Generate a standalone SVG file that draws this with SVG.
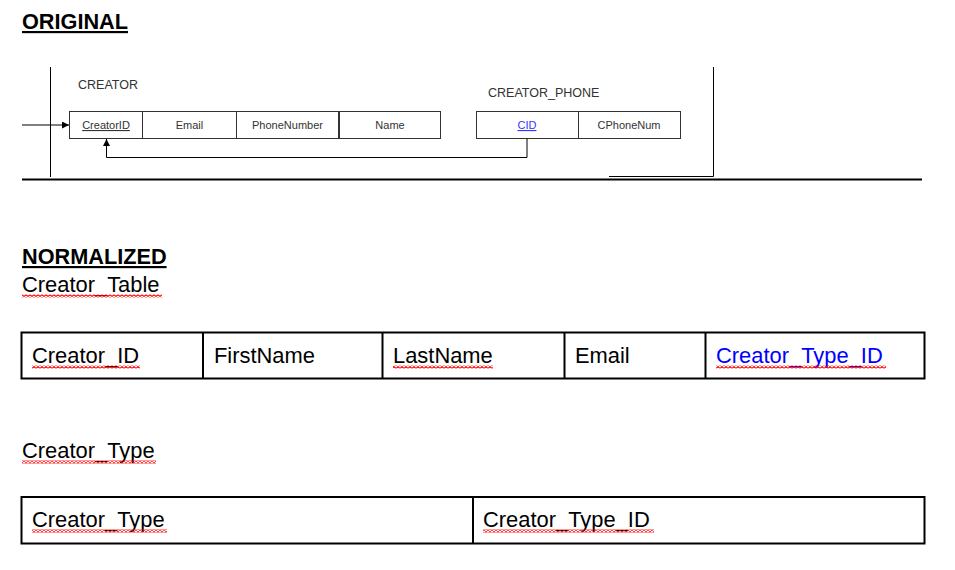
<svg xmlns="http://www.w3.org/2000/svg" width="955" height="570" viewBox="0 0 955 570">
<style>
.h{font-family:"Liberation Sans",Arial,sans-serif;font-size:21.7px;font-weight:bold;fill:#000;text-decoration:underline}
.t{font-family:"Liberation Sans",Arial,sans-serif;font-size:21.9px;fill:#000}
.blue{fill:#0000ff}
.s{font-family:"Liberation Sans",Arial,sans-serif;font-size:11px;fill:#333;text-anchor:middle}
.lbl{font-family:"Liberation Sans",Arial,sans-serif;font-size:12.5px;fill:#333}
.cell{fill:#fff;stroke:#333;stroke-width:1}
.tbl{fill:none;stroke:#000;stroke-width:2}
.ln{stroke:#000;stroke-width:1;fill:none}
.sq{fill:url(#wave)}
</style>
<defs>
<pattern id="wave" width="4" height="3" patternUnits="userSpaceOnUse">
<polyline points="0,2.5 2,0.5 4,2.5" fill="none" stroke="#ff0000" stroke-width="1.1"/>
</pattern>
<marker id="ah" viewBox="0 0 10 10" refX="10" refY="5" markerWidth="7" markerHeight="7" orient="auto" markerUnits="userSpaceOnUse">
<path d="M0,0 L10,5 L0,10 Z" fill="#000"/>
</marker>
</defs>
<rect width="955" height="570" fill="#fff"/>

<text class="h" x="22" y="29">ORIGINAL</text>

<g id="frame">
<line class="ln" x1="50.5" y1="67" x2="50.5" y2="177"/>
<polyline class="ln" stroke="#333" points="609,176.5 713.5,176.5 713.5,67"/>
<line x1="22" y1="179.5" x2="922" y2="179.5" stroke="#000" stroke-width="2"/>
</g>

<g id="creator">
<text class="lbl" x="78" y="89">CREATOR</text>
<rect class="cell" x="69.5" y="111.5" width="73" height="27"/>
<rect class="cell" x="142.5" y="111.5" width="94" height="27"/>
<rect class="cell" x="236.5" y="111.5" width="102" height="27"/>
<rect class="cell" x="339.5" y="111.5" width="101" height="27"/>
<text class="s" x="106" y="129" text-decoration="underline">CreatorID</text>
<text class="s" x="189.5" y="129">Email</text>
<text class="s" x="287.5" y="129">PhoneNumber</text>
<text class="s" x="390" y="129">Name</text>
</g>

<g id="creator_phone">
<text class="lbl" x="488" y="97">CREATOR_PHONE</text>
<rect class="cell" x="476.5" y="111.5" width="102" height="27"/>
<rect class="cell" x="578.5" y="111.5" width="102" height="27"/>
<text class="s" x="527" y="129" style="fill:#3333ff" text-decoration="underline">CID</text>
<text class="s" x="629" y="129">CPhoneNum</text>
</g>

<g id="connectors">
<line class="ln" x1="22" y1="125" x2="69" y2="125" marker-end="url(#ah)"/>
<polyline class="ln" points="527,138.5 527,157.5 106.5,157.5 106.5,139" marker-end="url(#ah)"/>
</g>

<text class="h" x="22" y="264">NORMALIZED</text>
<text class="t" x="22" y="292">Creator_Table</text>
<rect class="sq" x="22" y="294.5" width="140" height="3"/>

<g id="creator_table">
<rect class="tbl" x="21.5" y="332.5" width="903" height="46"/>
<line class="tbl" x1="203" y1="332.5" x2="203" y2="378.5"/>
<line class="tbl" x1="382.5" y1="332.5" x2="382.5" y2="378.5"/>
<line class="tbl" x1="564.5" y1="332.5" x2="564.5" y2="378.5"/>
<line class="tbl" x1="705.5" y1="332.5" x2="705.5" y2="378.5"/>
<text class="t" x="32" y="363">Creator_ID</text>
<text class="t" x="214" y="363">FirstName</text>
<text class="t" x="393" y="363">LastName</text>
<text class="t" x="575" y="363">Email</text>
<text class="t blue" x="716" y="363">Creator_Type_ID</text>
<rect class="sq" x="32" y="365.5" width="108" height="3"/>
<rect class="sq" x="393" y="365.5" width="100" height="3"/>
<rect class="sq" x="716" y="365.5" width="170" height="3"/>
</g>

<text class="t" x="22" y="458">Creator_Type</text>
<rect class="sq" x="22" y="460.5" width="134" height="3"/>

<g id="creator_type">
<rect class="tbl" x="21.5" y="497" width="903" height="46.5"/>
<line class="tbl" x1="473" y1="497" x2="473" y2="543.5"/>
<text class="t" x="32" y="527">Creator_Type</text>
<text class="t" x="483" y="527">Creator_Type_ID</text>
<rect class="sq" x="32" y="529.5" width="135" height="3"/>
<rect class="sq" x="483" y="529.5" width="171" height="3"/>
</g>
</svg>
